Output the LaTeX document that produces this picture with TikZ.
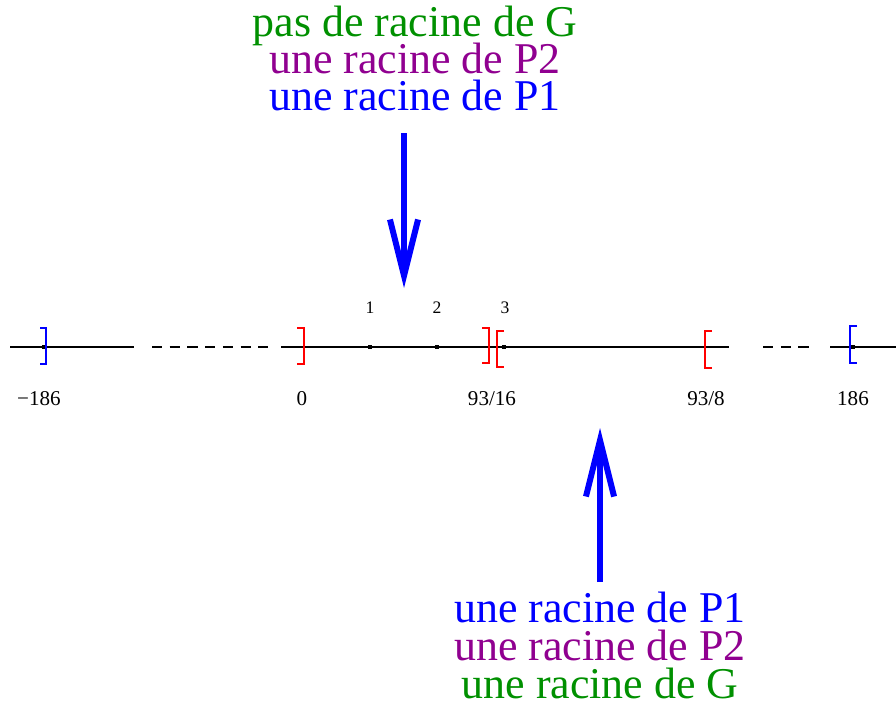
\documentclass[tikz,border=0pt]{standalone}
\usepackage{fontspec}
\setmainfont{Liberation Serif}
\usepackage{tikz}
\usetikzlibrary{arrows.meta,positioning}
\definecolor{figgreen}{RGB}{0,144,0}
\definecolor{figpurple}{RGB}{144,0,144}
\definecolor{figblue}{RGB}{0,0,255}
\definecolor{figred}{RGB}{255,0,0}

\begin{document}
\begin{tikzpicture}[
  x=0.02cm, y=-0.02cm,
  axis/.style={line width=1.1pt, black},
  gap/.style={axis, dash pattern=on 5.7pt off 4.4pt},
  brk/.style={line width=1.6pt, line cap=butt},
  tickmark/.style={fill=black, inner sep=0pt, minimum size=2.3pt},
  ticklab/.style={anchor=base, font=\fontsize{10}{12}\selectfont},
  numlab/.style={anchor=base, font=\fontsize{12}{14}\selectfont},
  bigtext/.style={anchor=base, font=\fontsize{25}{30}\selectfont, inner sep=0pt},
  bigarr/.style={figblue, line width=3.4pt, -{Straight Barb[length=32pt, width=16pt]}},
]
\useasboundingbox (0,0) rectangle (896,704);

% axis
\draw[axis] (10,347) -- (134,347);
\draw[gap] (152,347) -- (272,347);
\draw[axis] (281,347) -- (729,347);
\draw[gap] (763,347) -- (810,347);
\draw[axis] (830,347) -- (896,347);

% marks on the axis
\node[tickmark] (m186) at (44,347) {};
\node[tickmark] (t1) at (370,347) {};
\node[tickmark] (t2) at (437,347) {};
\node[tickmark] (t3) at (504,347) {};
\node[tickmark] (p186) at (853,347) {};

% intervals
\draw[brk, figblue] (40,328) -- (46,328) -- (46,364) -- (40,364);
\draw[brk, figred] (297,328) -- (304,328) -- (304,364) -- (297,364);
\draw[brk, figred] (482,328) -- (489,328) -- (489,363) -- (482,363);
\draw[brk, figred] (504,331) -- (497,331) -- (497,367) -- (504,367);
\draw[brk, figred] (712,331) -- (705,331) -- (705,368) -- (712,368);
\draw[brk, figblue] (857,326) -- (850,326) -- (850,363) -- (857,363);

% labels
\node[ticklab] (l1) at (370,313) {1};
\node[ticklab] (l2) at (437,313) {2};
\node[ticklab] (l3) at (505,313) {3};
\node[numlab] (lm186) at (39,405) {−186};
\node[numlab] (l0) at (302,405) {0};
\node[numlab] (l9316) at (492,405) {93/16};
\node[numlab] (l938) at (706,405) {93/8};
\node[numlab] (l186) at (853,405) {186};

% top comment
\node[bigtext, figgreen] (topG) at (415,36) {pas de racine de G};
\node[bigtext, figpurple] (topPb) at (415,73) {une racine de P2};
\node[bigtext, figblue] (topPa) at (415,110) {une racine de P1};

% bottom comment
\node[bigtext, figblue] (botPa) at (600,622) {une racine de P1};
\node[bigtext, figpurple] (botPb) at (600,660) {une racine de P2};
\node[bigtext, figgreen] (botG) at (600,698) {une racine de G};

\coordinate (tipA) at (404,288);
\coordinate (tipB) at (600,428);
\draw[bigarr] (tipA |- 0,133) -- (tipA);
\draw[bigarr] (tipB |- 0,582) -- (tipB);

\end{tikzpicture}
\end{document}
